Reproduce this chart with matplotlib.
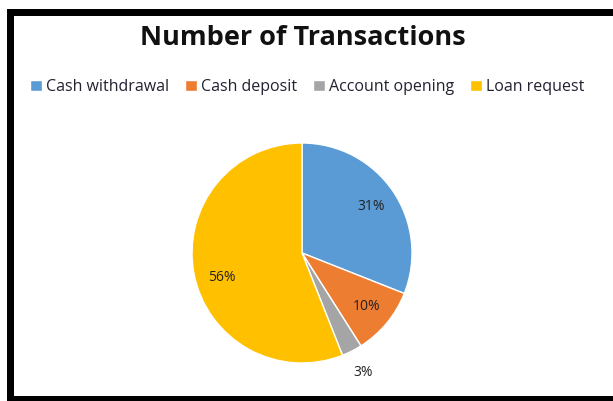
import matplotlib
matplotlib.use("Agg")
import matplotlib.pyplot as plt
from matplotlib.patches import Rectangle
import numpy as np

categories = ["Cash withdrawal", "Cash deposit", "Account opening", "Loan request"]
values = [31, 10, 3, 56]
colors = ["#5B9BD5", "#ED7D31", "#A5A5A5", "#FFC000"]
title = "Number of Transactions"

W, H = 613, 401
fig = plt.figure(figsize=(W / 100, H / 100), dpi=100)
fig.patch.set_facecolor("white")

# border (top, left, bottom)
def px_rect(x0, y0, x1, y1, color="black"):
    fig.patches.append(Rectangle((x0 / W, 1 - y1 / H), (x1 - x0) / W, (y1 - y0) / H,
                                 transform=fig.transFigure, facecolor=color,
                                 edgecolor="none", zorder=10))

px_rect(7, 9, W, 16)
px_rect(7, 9, 14, H)
px_rect(7, 396, W, H)

fig.text(303 / W, 1 - 38 / H, title, ha="center", va="center",
         fontsize=19.5, fontweight="bold", family="Open Sans", color="#111111")

cx, cy, r = 302, 253, 110
ax = fig.add_axes([(cx - r) / W, 1 - (cy + r) / H, 2 * r / W, 2 * r / H])
wedges, texts, autotexts = ax.pie(values, colors=colors, startangle=90, counterclock=False,
                                  autopct=lambda p: f"{p:.0f}%", pctdistance=0.76,
                                  wedgeprops=dict(edgecolor="white", linewidth=1),
                                  textprops=dict(fontsize=10, family="Open Sans", color="#222222"))
ax.set_xlim(-1, 1)
ax.set_ylim(-1, 1)
ax.set_aspect("equal")
ax.axis("off")

# move small slice label outside
w = wedges[2]
ang = np.deg2rad((w.theta1 + w.theta2) / 2)
autotexts[2].set_position((1.22 * np.cos(ang), 1.22 * np.sin(ang)))
# large slice label slightly lower, as in the reference
w = wedges[3]
ang = np.deg2rad((w.theta1 + w.theta2) / 2 + 6)
autotexts[3].set_position((0.76 * np.cos(ang), 0.76 * np.sin(ang)))

leg = fig.legend(wedges, categories, loc="center", bbox_to_anchor=(307 / W, 1 - 87 / H),
                 ncol=4, frameon=False, handlelength=0.75, handleheight=0.75,
                 handletextpad=0.25, columnspacing=1.0,
                 prop=dict(family="Open Sans", size=11.5))
for t in leg.get_texts():
    t.set_color("#222233")

fig.savefig("out.png", dpi=100)
